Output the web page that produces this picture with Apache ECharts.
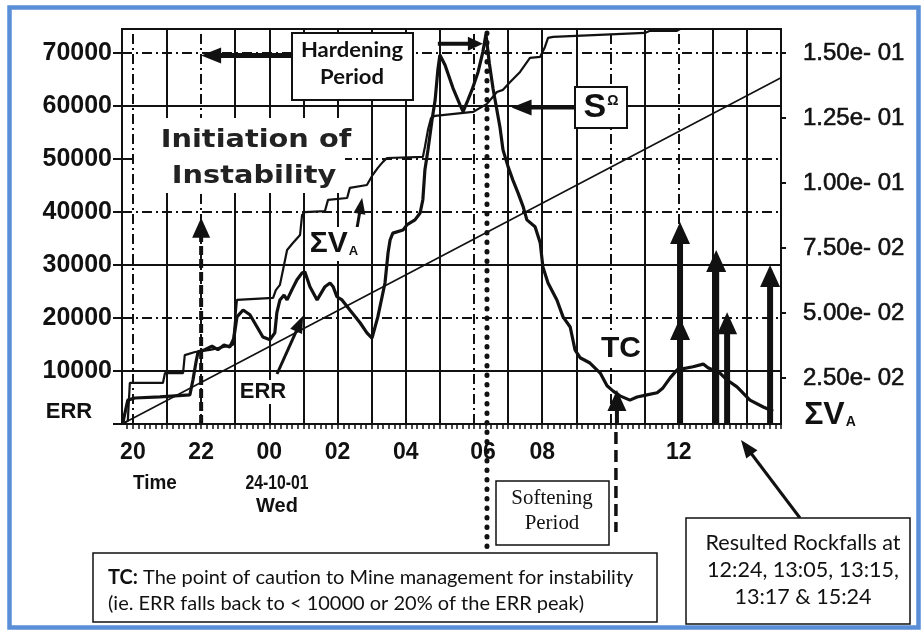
<!DOCTYPE html>
<html>
<head>
<meta charset="utf-8">
<title>ERR and cumulative apparent volume, 23-24 Oct 2001</title>
<script src="https://cdn.jsdelivr.net/npm/echarts@6/dist/echarts.min.js"></script>
<style>
  html, body { margin: 0; padding: 0; background: #fff; }
  #chart { width: 923px; height: 632px; }
</style>
</head>
<body>
<div id="chart"></div>
<script>
// ---------- data (time in hours from midnight of 23-10; 24 = 00:00 on 24-10) ----------
const timeTickHours  = [20, 22, 24, 26, 28, 30, 32, 36];
const timeTickLabels = ['20', '22', '00', '02', '04', '06', '08', '12'];
const sumVaTickValues = [0.025, 0.05, 0.075, 0.1, 0.125, 0.15];

// energy release rate (left axis)
const errHours = [19.71, 19.85, 20.06, 20.79, 21.67, 21.76, 21.85, 21.91, 22.11, 22.32,
  22.49, 22.67, 22.84, 22.96, 23.05, 23.23, 23.43, 23.64, 23.81, 24.02,
  24.16, 24.22, 24.31, 24.43, 24.52, 24.66, 24.81, 24.96, 25.04, 25.19,
  25.40, 25.63, 25.78, 25.87, 25.98, 26.13, 26.36, 26.66, 26.86, 27.01,
  27.18, 27.39, 27.48, 27.54, 27.62, 27.92, 28.04, 28.27, 28.42, 28.50,
  28.56, 28.65, 28.77, 28.86, 28.94, 29.00, 29.15, 29.38, 29.59, 29.68,
  29.82, 29.94, 30.12, 30.26, 30.35, 30.45, 30.56, 30.76, 30.85, 31.00,
  31.14, 31.29, 31.44, 31.55, 31.79, 31.94, 32.02, 32.17, 32.43, 32.61,
  32.82, 32.96, 33.11, 33.40, 33.70, 33.90, 34.08, 34.28, 34.57, 34.78,
  35.07, 35.37, 35.54, 35.75, 35.95, 36.42, 36.72, 36.86, 37.21, 37.42,
  37.71, 38.09, 38.48, 38.77];
const errValues = [400, 4500, 4900, 5100, 5500, 8300, 11700, 13600, 14000, 14700,
  14000, 14900, 14500, 16200, 20200, 21500, 20600, 18300, 16400, 15900,
  17200, 21000, 23400, 24300, 23400, 25300, 27200, 28500, 28700, 25900,
  23400, 25900, 26600, 25900, 24000, 23400, 21500, 19100, 17200, 16200,
  20200, 26600, 32300, 34700, 36000, 36600, 37600, 38500, 39800, 42300,
  47900, 51700, 57400, 61100, 66800, 69600, 67700, 63400, 60200, 58900,
  61100, 63000, 66400, 70200, 73500, 68000, 63200, 56000, 51700, 48500,
  46000, 43600, 41000, 38500, 37200, 34200, 29600, 26600, 23400, 20200,
  18300, 14000, 12500, 11500, 9600, 7200, 6200, 5300, 4500, 5100,
  5500, 5900, 6800, 8700, 10200, 10800, 11300, 10600, 9600, 8300,
  7000, 4500, 3200, 2400];

// cumulative apparent volume, sum of V_A (right axis)
const sumVaHours = [19.68, 19.85, 19.91, 20.88, 20.94, 21.47, 21.52, 21.82, 22.26, 22.93,
  23.05, 24.11, 24.19, 24.31, 24.40, 24.52, 24.69, 24.90, 24.96, 25.04,
  25.63, 25.72, 26.28, 26.36, 26.86, 27.01, 27.18, 27.33, 27.45, 28.50,
  28.56, 28.65, 28.74, 28.86, 29.97, 30.38, 30.67, 30.85, 31.06, 31.35,
  31.64, 31.94, 32.08, 32.17, 32.32, 35.01, 35.16, 35.95, 36.04];
const sumVaValues = [0.0073, 0.0085, 0.0231, 0.0231, 0.0269, 0.0269, 0.0338, 0.0350, 0.0358, 0.0377,
  0.0550, 0.0558, 0.0588, 0.0608, 0.0665, 0.0742, 0.0769, 0.0800, 0.0877, 0.0888,
  0.0892, 0.0935, 0.0942, 0.0981, 0.0992, 0.1027, 0.1058, 0.1081, 0.1096, 0.1100,
  0.1138, 0.1204, 0.1250, 0.1258, 0.1273, 0.1304, 0.1350, 0.1358, 0.1388, 0.1427,
  0.1481, 0.1485, 0.1523, 0.1558, 0.1562, 0.1577, 0.1585, 0.1585, 0.1592];

// straight trend line (left axis)
const trendHours  = [19.68, 39];
const trendValues = [0, 65300];

// events
const rockfallHours  = [36.04, 36.04, 37.10, 37.42, 38.68];
const rockfallLevels = [38100, 20000, 32800, 21100, 30000];
const initiationHour = 22,    initiationLevel = 38900;
const tcHour = 34.19,         tcLevel = 6400;
const peakHour = 30.38;
const firstPeakHour = 28.94,  topArrowLevel = 71700;
const sLevelHour = 31.1,      sLevel = 59700;
const sumVaMarkHour = 26.72,  sumVaMarkLevel = 42650;
const errMarkHour = 24.99,    errMarkLevel = 20400;

// grid lines
const gridHoursSolid  = [21, 23, 24, 25, 26, 27, 28, 29, 31, 32, 33, 35, 37, 38];
const gridHoursDashed = [20, 22, 30, 34, 36];
const gridLevelsSolid  = [10000, 30000, 60000];
const gridLevelsDashed = [20000, 40000, 50000, 70000];

// ---------- helpers ----------
const zip = (a, b) => a.map((v, i) => [v, b[i]]);
const INK = '#111';
const SANS = "'Liberation Sans', Arial, sans-serif";
const HUMAN = "Lato, 'Open Sans', sans-serif";
const SERIF = "'Liberation Serif', 'Times New Roman', serif";

const rulerTicks = [];
for (let k = 119; k <= 234; k++) rulerTicks.push(k / 6);

function sci(v) {
  const parts = v.toExponential(2).split('e');
  const ex = Math.abs(parseInt(parts[1], 10));
  return parts[0] + 'e- ' + String(ex).padStart(2, '0');
}

const dashDot = [10, 4, 2, 4];
const gridMarks = []
  .concat(gridHoursSolid.map(h => ({ xAxis: h, lineStyle: { color: INK, width: 2, type: 'solid' } })))
  .concat(gridHoursDashed.map(h => ({ xAxis: h, lineStyle: { color: INK, width: 2, type: dashDot } })))
  .concat(gridLevelsSolid.map(v => ({ yAxis: v, lineStyle: { color: INK, width: 2, type: 'solid' } })))
  .concat(gridLevelsDashed.map(v => ({ yAxis: v, lineStyle: { color: INK, width: 2, type: dashDot } })));

const chart = echarts.init(document.getElementById('chart'));

chart.setOption({
  animation: false,
  backgroundColor: '#fff',
  grid: { left: 122, right: 142, top: 29, bottom: 208, show: true, borderColor: INK, borderWidth: 2 },
  xAxis: {
    type: 'value', min: 19.68, max: 39,
    axisLine: { show: true, onZero: false, lineStyle: { color: INK, width: 2 } },
    axisTick: { show: true, customValues: rulerTicks, length: 5, lineStyle: { color: INK, width: 1.5 } },
    axisLabel: {
      customValues: timeTickHours,
      formatter: v => {
        const i = timeTickHours.findIndex(t => Math.abs(t - v) < 1e-6);
        const s = i >= 0 ? timeTickLabels[i] : '';
        return s === '06' ? '{sh|' + s + '}' : s;
      },
      margin: 17, color: INK, fontFamily: SANS, fontWeight: 'bold', fontSize: 23,
      rich: { sh: { padding: [0, 0, 0, 18], color: INK, fontFamily: SANS, fontWeight: 'bold', fontSize: 23 } }
    },
    splitLine: { show: false }
  },
  yAxis: [
    {
      type: 'value', min: 0, max: 74500, interval: 10000, position: 'left',
      axisLine: { show: true, lineStyle: { color: INK, width: 2 } },
      axisTick: { show: true, length: 9, lineStyle: { color: INK, width: 2 } },
      axisLabel: { formatter: v => (v === 0 ? '' : String(v)), margin: 10, color: INK,
                   fontFamily: SANS, fontWeight: 'bold', fontSize: 25 },
      splitLine: { show: false }
    },
    {
      type: 'value', min: 0.0073, max: 0.1592, position: 'right',
      axisLine: { show: true, lineStyle: { color: INK, width: 2 } },
      axisTick: { show: true, customValues: sumVaTickValues, length: 5, lineStyle: { color: INK, width: 2 } },
      axisLabel: { customValues: sumVaTickValues, formatter: sci, margin: 22, color: INK,
                   fontFamily: SANS, fontSize: 24, textBorderColor: INK, textBorderWidth: 0.6 },
      splitLine: { show: false }
    }
  ],
  series: [
    {
      name: 'grid', type: 'line', data: [], z: 1, silent: true,
      markLine: { silent: true, symbol: ['none', 'none'], label: { show: false }, animation: false, data: gridMarks }
    },
    {
      name: 'trend', type: 'line', data: zip(trendHours, trendValues), symbol: 'none', z: 3,
      lineStyle: { color: INK, width: 1.6 }
    },
    {
      name: 'ΣVA', type: 'line', yAxisIndex: 1, data: zip(sumVaHours, sumVaValues), symbol: 'none', z: 4,
      lineStyle: { color: INK, width: 2.2 }
    },
    {
      name: 'ERR', type: 'line', data: zip(errHours, errValues), symbol: 'none', z: 5,
      lineStyle: { color: INK, width: 3.2 }
    }
  ]
});

// ---------- annotations ----------
const P = (h, v, yi) => chart.convertToPixel({ xAxisIndex: 0, yAxisIndex: yi || 0 }, [h, v]);

function arrow(x1, y1, x2, y2, o) {
  o = o || {};
  const w = o.width || 4, hl = o.headLen || 18, hw = o.headWidth || 16, z = o.z || 20;
  const dx = x2 - x1, dy = y2 - y1, L = Math.hypot(dx, dy), ux = dx / L, uy = dy / L, nx = -uy, ny = ux;
  const bx = x2 - ux * hl, by = y2 - uy * hl;
  const style = { stroke: INK, lineWidth: w };
  if (o.dash) style.lineDash = o.dash;
  return [
    { type: 'line', z, silent: true, shape: { x1, y1, x2: bx + ux * 2, y2: by + uy * 2 }, style },
    { type: 'polygon', z, silent: true,
      shape: { points: [[x2, y2], [bx + nx * hw / 2, by + ny * hw / 2], [bx - nx * hw / 2, by - ny * hw / 2]] },
      style: { fill: INK } }
  ];
}
function text(x, y, str, font, extra) {
  return Object.assign({
    type: 'text', x, y, z: 30, silent: true,
    style: Object.assign({ text: str, font, fill: INK, align: 'center', verticalAlign: 'middle',
                           textAlign: 'center', textVerticalAlign: 'middle' }, (extra && extra.style) || {})
  }, (extra && extra.el) || {});
}
function box(x, y, w, h, lw) {
  return { type: 'rect', z: 25, silent: true, shape: { x, y, width: w, height: h },
           style: { fill: '#fff', stroke: INK, lineWidth: lw || 2 } };
}

const g = [];
const [, axisY] = P(20, 0);
const [, topY] = P(20, 74500);

// outer frame
g.push({ type: 'rect', z: 40, silent: true, shape: { x: 9.5, y: 7.5, width: 909, height: 620 },
         style: { fill: 'none', stroke: '#5a8ed6', lineWidth: 4.5 } });

// peak marker (dotted) running down to the softening note
const [peakX] = P(peakHour, 0);
g.push({ type: 'line', z: 22, silent: true, shape: { x1: peakX, y1: topY + 4, x2: peakX, y2: 548 },
         style: { stroke: INK, lineWidth: 5, lineDash: [0.5, 9], lineCap: 'round' } });

// TC marker continues below the axis
const [tcX] = P(tcHour, 0);
g.push({ type: 'line', z: 22, silent: true, shape: { x1: tcX - 1, y1: 432, x2: tcX - 1, y2: 532 },
         style: { stroke: INK, lineWidth: 3.5, lineDash: [12, 6] } });

// rockfall arrows
rockfallHours.forEach((h, i) => {
  const [x, y] = P(h, rockfallLevels[i]);
  g.push(...arrow(x, axisY, x, y, { width: 6, headLen: 22, headWidth: 20 }));
});
// TC arrow
{ const [x, y] = P(tcHour, tcLevel); g.push(...arrow(x, axisY, x, y, { width: 4, headLen: 21, headWidth: 19 })); }
// initiation arrow (dashed)
{ const [x, y] = P(initiationHour, initiationLevel);
  g.push(...arrow(x, axisY, x, y, { width: 4, headLen: 20, headWidth: 18, dash: [9, 4] })); }

// hardening period arrow and small arrow between the two peaks
{ const [x, y] = P(initiationHour, 69500); g.push(...arrow(291, y, x, y, { width: 5, headLen: 20, headWidth: 16 })); }
{ const [x1, y] = P(firstPeakHour, topArrowLevel); const [x2] = P(peakHour - 0.12, topArrowLevel);
  g.push(...arrow(x1, y, x2, y, { width: 4, headLen: 15, headWidth: 14 })); }
// S arrow
{ const [x, y] = P(sLevelHour, sLevel); g.push(...arrow(575, y, x, y, { width: 4, headLen: 20, headWidth: 16 })); }
// label arrows
{ const [x, y] = P(sumVaMarkHour, sumVaMarkLevel); g.push(...arrow(356, 234, x, y, { width: 3, headLen: 16, headWidth: 12 })); }
{ const [x, y] = P(errMarkHour, errMarkLevel); g.push(...arrow(277, 374, x, y, { width: 3, headLen: 17, headWidth: 13 })); }
// rockfall note arrow
g.push(...arrow(800, 518, 741, 440, { width: 3, headLen: 18, headWidth: 14 }));

// white-out behind the initiation note
g.push({ type: 'rect', z: 6, silent: true, shape: { x: 136, y: 118, width: 209, height: 75 }, style: { fill: '#fff' } });
g.push(text(256, 141, 'Initiation of', "bold 24px 'DejaVu Sans', sans-serif",
  { style: { fill: '#222' }, el: { scaleX: 1.2 } }));
g.push(text(254, 177, 'Instability', "bold 24px 'DejaVu Sans', sans-serif",
  { style: { fill: '#222' }, el: { scaleX: 1.2 } }));

// in-plot labels
g.push(text(334, 244, '{m|ΣV}{s|A}', null, { style: { backgroundColor: '#fff', padding: [2, 3],
  rich: { m: { font: "bold 30px " + SANS, fill: INK }, s: { font: "bold 13px " + SANS, fill: INK, padding: [14, 0, 0, 1] } } } }));
g.push(text(263, 392, 'ERR', "bold 22px " + SANS, { style: { backgroundColor: '#fff', padding: [1, 3] } }));
g.push(text(621, 349, 'TC', "bold 30px " + SANS, { style: { backgroundColor: '#fff', padding: [1, 2] } }));

// S box
g.push(box(575, 87, 52, 41));
g.push(text(601, 108, '{s|S}{o|Ω}', null, { style: {
  rich: { s: { font: "bold 34px " + SANS, fill: INK }, o: { font: "bold 14px " + SANS, fill: INK, padding: [0, 0, 14, 1] } } } }));

// hardening box
g.push(box(292, 33, 121, 67));
g.push(text(352, 50, 'Hardening', "bold 21px " + HUMAN, { el: { scaleX: 1.05 } }));
g.push(text(352, 77, 'Period', "bold 21px " + HUMAN, { el: { scaleX: 1.05 } }));

// axis captions
g.push(text(69, 412, 'ERR', "bold 22px " + SANS));
g.push(text(830, 415, '{m|ΣV}{s|A}', null, { style: {
  rich: { m: { font: "bold 32px " + SANS, fill: INK }, s: { font: "bold 14px " + SANS, fill: INK, padding: [15, 0, 0, 1] } } } }));
g.push(text(155, 483, 'Time', "bold 21px " + SANS, { el: { scaleX: 0.9 } }));
g.push(text(277, 483, '24-10-01', "bold 21px " + SANS, { el: { scaleX: 0.75 } }));
g.push(text(277, 506, 'Wed', "bold 21px " + SANS, { el: { scaleX: 0.95 } }));

// softening note
g.push(box(496, 481, 113, 64, 1.5));
g.push(text(552, 498, 'Softening', "22px " + SERIF, { el: { scaleX: 0.95 } }));
g.push(text(552, 523, 'Period', "22px " + SERIF, { el: { scaleX: 0.95 } }));

// TC note
g.push(box(93, 553, 564, 69, 1.5));
g.push(text(108, 578, '{b|TC:} The point of caution to Mine management for instability', "20px " + HUMAN,
  { style: { align: 'left', textAlign: 'left', rich: { b: { font: "bold 20px " + HUMAN, fill: INK } } } }));
g.push(text(108, 604, '(ie. ERR falls back to < 10000 or 20% of the ERR peak)', "20px " + HUMAN,
  { style: { align: 'left', textAlign: 'left' } }));

// rockfall note
g.push(box(686, 518, 224, 106, 1.5));
g.push(text(803, 543, 'Resulted Rockfalls at', "22px " + HUMAN, { el: { scaleX: 0.98 } }));
g.push(text(803, 570, '12:24, 13:05, 13:15,', "22px " + HUMAN, { el: { scaleX: 0.98 } }));
g.push(text(803, 597, '13:17 & 15:24', "22px " + HUMAN, { el: { scaleX: 0.98 } }));

chart.setOption({ graphic: { elements: g } });
</script>
</body>
</html>
